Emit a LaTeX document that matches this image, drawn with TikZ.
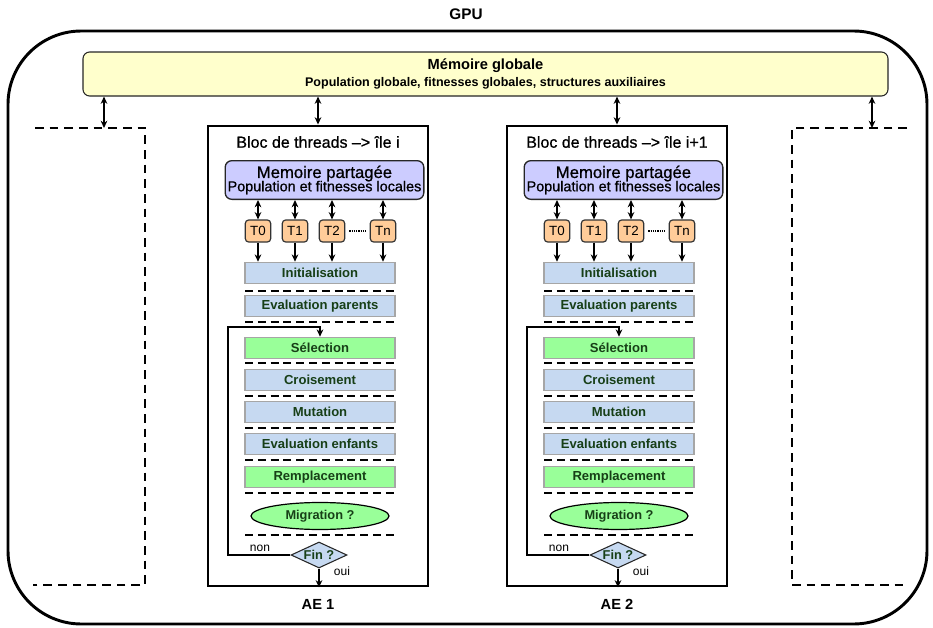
\documentclass[tikz,border=0pt]{standalone}
\usepackage{fontspec}
\setmainfont{Liberation Sans}
\newfontfamily\moyen[FakeBold=0.8,Ligatures=TeX]{Liberation Sans}
\usetikzlibrary{shapes.geometric,arrows.meta}

\definecolor{jauneglob}{HTML}{FFFFCC}
\definecolor{lavande}{HTML}{CCCCFF}
\definecolor{orangeT}{HTML}{FFCC99}
\definecolor{bleuT}{HTML}{C6D9F1}
\definecolor{vertT}{HTML}{99FF99}
\definecolor{texteT}{HTML}{173F17}

\tikzset{
  tache/.style={draw=gray!70, line width=1.2pt, minimum width=112.5pt, minimum height=15.75pt,
    inner sep=0pt, text=texteT, font=\bfseries\fontsize{9.8}{11}\selectfont},
  bleu/.style={tache, fill=bleuT},
  vert/.style={tache, fill=vertT},
  thread/.style={draw=black!80, fill=orangeT, rounded corners=2.5pt, line width=0.9pt,
    minimum width=19pt, minimum height=16.5pt, inner sep=0pt, font=\fontsize{10}{11}\selectfont},
  sep/.style={line width=2pt, dash pattern=on 6pt off 3.6pt},
  pointille/.style={line width=2.2pt, dash pattern=on 6.5pt off 4.5pt},
  fleche/.style={->, line width=1.5pt},
  fleche2/.style={<->, line width=1.5pt},
}

\begin{document}
\begin{tikzpicture}[x=0.75pt, y=-0.75pt, >={Stealth[length=5.5pt,width=5pt]}]
  \useasboundingbox (0,0) rectangle (933,628);
  % GPU
  \node[font=\bfseries\fontsize{11.5}{13}\selectfont] (gpu) at (466,14) {GPU};
  \draw[line width=2.2pt, rounded corners=55pt] (8,31) rectangle (927,624);
  \node[draw=black!85, fill=jauneglob, rounded corners=5pt, line width=0.8pt,
        minimum width=603.75pt, minimum height=33pt, align=center] (glob) at (485.5,74)
        {{\bfseries\fontsize{11}{14}\selectfont Mémoire globale}\\[1pt]
         {\bfseries\fontsize{9.4}{11}\selectfont Population globale, fitnesses globales, structures auxiliaires}};

  % autres iles
  \draw[pointille] (35,128) -- (145,128) -- (145,585) -- (33,585);
  \draw[pointille] (907,128) -- (792,128) -- (792,585) -- (905,585);
  \coordinate (gauche) at (104,128);
  \coordinate (droite) at (872,128);

  % ile i
  \begin{scope}
    \node[draw, line width=2.2pt, minimum width=165pt, minimum height=345pt] (blocA) at (318,356) {};
    \node[font=\moyen\fontsize{12}{14}\selectfont] (titreA) at (318,142) {Bloc de threads --> île i};
    \node[draw=black!85, fill=lavande, rounded corners=5pt, line width=1pt, minimum width=149pt,
          minimum height=29pt, inner sep=0pt, align=center, font=\moyen] (memA) at (324.5,180)
          {{\fontsize{12.5}{14}\selectfont Memoire partagée}\\[-2pt]
           {\fontsize{10.8}{12}\selectfont Population et fitnesses locales}};
    \node[thread] (t0A) at (258,231) {T0};
    \node[thread] (t1A) at (295,231) {T1};
    \node[thread] (t2A) at (332,231) {T2};
    \node[thread] (tnA) at (383,231) {Tn};
    \node[bleu] (initA)  at (320,273) {Initialisation};
    \node[bleu] (evalpA) at (320,306) {Evaluation parents};
    \node[vert] (selA)   at (320,348) {Sélection};
    \node[bleu] (croisA) at (320,380) {Croisement};
    \node[bleu] (mutA)   at (320,412) {Mutation};
    \node[bleu] (evaleA) at (320,444) {Evaluation enfants};
    \node[vert] (rempA)  at (320,477) {Remplacement};
    \node[ellipse, draw, line width=0.9pt, fill=vertT, minimum width=103.5pt, minimum height=20.25pt,
          inner sep=0pt, text=texteT, font=\bfseries\fontsize{9.6}{11}\selectfont] (migA) at (320,516) {Migration ?};
    \node[diamond, draw=black!85, line width=0.8pt, fill=bleuT, minimum width=42pt, minimum height=19.5pt,
          aspect=2.2, inner sep=0pt, text=texteT, font=\bfseries\fontsize{9.6}{11}\selectfont] (finA) at (319,555) {Fin ?};
    \node[font=\fontsize{9}{10}\selectfont] (nonA) at (260,548) {non};
    \node[font=\fontsize{9}{10}\selectfont] (ouiA) at (342,571) {oui};
    \node[font=\bfseries\fontsize{11}{13}\selectfont] (aeA) at (318,604) {AE 1};
    \coordinate (boucleA) at (228,327);
    \draw[fleche2] (t0A) -- (t0A |- memA.south);
    \draw[fleche2] (t1A) -- (t1A |- memA.south);
    \draw[fleche2] (t2A) -- (t2A |- memA.south);
    \draw[fleche2] (tnA) -- (tnA |- memA.south);
    \draw[fleche] (t0A) -- (t0A |- initA.north);
    \draw[fleche] (t1A) -- (t1A |- initA.north);
    \draw[fleche] (t2A) -- (t2A |- initA.north);
    \draw[fleche] (tnA) -- (tnA |- initA.north);
    \draw[line width=1pt, dash pattern=on 1pt off 0.7pt] ([xshift=3pt]t2A.east) -- ([xshift=-3pt]tnA.west);
    \draw[sep] (245,291) -- (395,291);
    \draw[sep] (245,322) -- (395,322);
    \draw[sep] (245,363) -- (395,363);
    \draw[sep] (245,396) -- (395,396);
    \draw[sep] (245,428) -- (395,428);
    \draw[sep] (245,460) -- (395,460);
    \draw[sep] (245,493) -- (395,493);
    \draw[sep] (245,535) -- (395,535);
    \draw[->, line width=1pt] (finA.west) -| (boucleA) -| (selA.north);
    \draw[->, line width=1pt] (finA.south) -- (finA.south |- blocA.south);
  \end{scope}

  % ile i+1
  \begin{scope}[xshift=224.25pt]
    \node[draw, line width=2.2pt, minimum width=165pt, minimum height=345pt] (blocB) at (318,356) {};
    \node[font=\moyen\fontsize{12}{14}\selectfont] (titreB) at (318,142) {Bloc de threads --> île i+1};
    \node[draw=black!85, fill=lavande, rounded corners=5pt, line width=1pt, minimum width=149pt,
          minimum height=29pt, inner sep=0pt, align=center, font=\moyen] (memB) at (324.5,180)
          {{\fontsize{12.5}{14}\selectfont Memoire partagée}\\[-2pt]
           {\fontsize{10.8}{12}\selectfont Population et fitnesses locales}};
    \node[thread] (t0B) at (258,231) {T0};
    \node[thread] (t1B) at (295,231) {T1};
    \node[thread] (t2B) at (332,231) {T2};
    \node[thread] (tnB) at (383,231) {Tn};
    \node[bleu] (initB)  at (320,273) {Initialisation};
    \node[bleu] (evalpB) at (320,306) {Evaluation parents};
    \node[vert] (selB)   at (320,348) {Sélection};
    \node[bleu] (croisB) at (320,380) {Croisement};
    \node[bleu] (mutB)   at (320,412) {Mutation};
    \node[bleu] (evaleB) at (320,444) {Evaluation enfants};
    \node[vert] (rempB)  at (320,477) {Remplacement};
    \node[ellipse, draw, line width=0.9pt, fill=vertT, minimum width=103.5pt, minimum height=20.25pt,
          inner sep=0pt, text=texteT, font=\bfseries\fontsize{9.6}{11}\selectfont] (migB) at (320,516) {Migration ?};
    \node[diamond, draw=black!85, line width=0.8pt, fill=bleuT, minimum width=42pt, minimum height=19.5pt,
          aspect=2.2, inner sep=0pt, text=texteT, font=\bfseries\fontsize{9.6}{11}\selectfont] (finB) at (319,555) {Fin ?};
    \node[font=\fontsize{9}{10}\selectfont] (nonB) at (260,548) {non};
    \node[font=\fontsize{9}{10}\selectfont] (ouiB) at (342,571) {oui};
    \node[font=\bfseries\fontsize{11}{13}\selectfont] (aeB) at (318,604) {AE 2};
    \coordinate (boucleB) at (228,327);
    \draw[fleche2] (t0B) -- (t0B |- memB.south);
    \draw[fleche2] (t1B) -- (t1B |- memB.south);
    \draw[fleche2] (t2B) -- (t2B |- memB.south);
    \draw[fleche2] (tnB) -- (tnB |- memB.south);
    \draw[fleche] (t0B) -- (t0B |- initB.north);
    \draw[fleche] (t1B) -- (t1B |- initB.north);
    \draw[fleche] (t2B) -- (t2B |- initB.north);
    \draw[fleche] (tnB) -- (tnB |- initB.north);
    \draw[line width=1pt, dash pattern=on 1pt off 0.7pt] ([xshift=3pt]t2B.east) -- ([xshift=-3pt]tnB.west);
    \draw[sep] (245,291) -- (395,291);
    \draw[sep] (245,322) -- (395,322);
    \draw[sep] (245,363) -- (395,363);
    \draw[sep] (245,396) -- (395,396);
    \draw[sep] (245,428) -- (395,428);
    \draw[sep] (245,460) -- (395,460);
    \draw[sep] (245,493) -- (395,493);
    \draw[sep] (245,535) -- (395,535);
    \draw[->, line width=1pt] (finB.west) -| (boucleB) -| (selB.north);
    \draw[->, line width=1pt] (finB.south) -- (finB.south |- blocB.south);
  \end{scope}

  % memoire globale <-> blocs
  \draw[<->, line width=1.1pt] (gauche) -- (gauche |- glob.south);
  \draw[<->, line width=1.1pt] (blocA.north) -- (blocA.north |- glob.south);
  \draw[<->, line width=1.1pt] (blocB.north) -- (blocB.north |- glob.south);
  \draw[<->, line width=1.1pt] (droite) -- (droite |- glob.south);
\end{tikzpicture}
\end{document}
